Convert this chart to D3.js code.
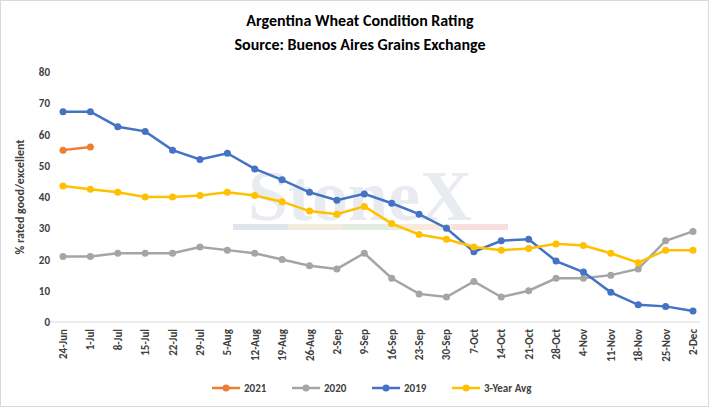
<!DOCTYPE html>
<html><head><meta charset="utf-8">
<script src="https://cdn.jsdelivr.net/npm/d3@7"></script>
<style>body{margin:0;background:#fff;font-family:Calibri,Carlito,"Liberation Sans",sans-serif}</style>
</head><body>
<script>
var categories = ["24-Jun","1-Jul","8-Jul","15-Jul","22-Jul","29-Jul","5-Aug","12-Aug","19-Aug","26-Aug","2-Sep","9-Sep","16-Sep","23-Sep","30-Sep","7-Oct","14-Oct","21-Oct","28-Oct","4-Nov","11-Nov","18-Nov","25-Nov","2-Dec"];
var s2021 = [55,56];
var s2020 = [21,21,22,22,22,24,23,22,20,18,17,22,14,9,8,13,8,10,14,14,15,17,26,29];
var s2019 = [67.3,67.3,62.5,61,55,52,54,49,45.5,41.5,39,41,38,34.5,30,22.5,26,26.5,19.5,16,9.5,5.5,5,3.5];
var avg3 = [43.5,42.5,41.5,40,40,40.5,41.5,40.5,38.5,35.5,34.5,37,31.5,28,26.5,24,23,23.5,25,24.5,22,19,23,23];
var yTicks = [0,10,20,30,40,50,60,70,80];

var w = 709, h = 407;
var svg = d3.select("body").append("svg").attr("width", w).attr("height", h);
svg.append("rect").attr("x",0.5).attr("y",0.5).attr("width",w-1).attr("height",h-1).attr("fill","#fff").attr("stroke","#d9d9d9");

var x = d3.scalePoint().domain(categories).range([63, 693]);
var y = d3.scaleLinear().domain([0, 80]).range([322, 72]);

svg.append("text").attr("x", 360).attr("y", 26).attr("text-anchor","middle").attr("font-size",16).attr("font-weight","bold").text("Argentina Wheat Condition Rating");
svg.append("text").attr("x", 360).attr("y", 50).attr("text-anchor","middle").attr("font-size",16).attr("font-weight","bold").text("Source: Buenos Aires Grains Exchange");

// watermark
svg.append("text").attr("x", 360).attr("y", 220).attr("text-anchor","middle").attr("font-size",72).attr("font-weight","bold")
  .attr("font-family","'Liberation Serif',serif").attr("fill","#dfe3ea").attr("opacity",0.7).text("StoneX");
var wm = ["#c9d3e0","#e7dfc6","#cfe0c9","#f4dcc6","#f2c9c9"];
wm.forEach(function(c,i){ svg.append("rect").attr("x",233+i*55).attr("y",224).attr("width",55).attr("height",6).attr("fill",c).attr("opacity",0.6); });

svg.selectAll(".yl").data(yTicks).enter().append("text")
  .attr("x", 50).attr("y", function(d){ return y(d)+4; }).attr("text-anchor","end").attr("font-size",11).attr("font-weight","bold").attr("fill","#404040").text(function(d){return d;});
svg.append("line").attr("x1",50).attr("x2",700).attr("y1",y(0)).attr("y2",y(0)).attr("stroke","#d9d9d9");

svg.append("text").attr("transform","translate(24,197) rotate(-90)").attr("text-anchor","middle").attr("font-size",12).attr("font-weight","bold").attr("fill","#404040").text("% rated good/excellent");

svg.selectAll(".xl").data(categories).enter().append("text")
  .attr("transform", function(d){ return "translate(" + (x(d)+4) + ",329) rotate(-90)"; })
  .attr("text-anchor","end").attr("font-size",11).attr("font-weight","bold").attr("fill","#404040").text(function(d){return d;});

var series = [
  {name:"2020", data:s2020, color:"#a5a5a5"},
  {name:"2019", data:s2019, color:"#4472c4"},
  {name:"3-Year Avg", data:avg3, color:"#ffc000"},
  {name:"2021", data:s2021, color:"#ed7d31"}
];
var line = d3.line().x(function(d,i){return x(categories[i]);}).y(function(d){return y(d);});
series.forEach(function(s){
  svg.append("path").datum(s.data).attr("d", line).attr("fill","none").attr("stroke", s.color).attr("stroke-width",2.5);
  svg.selectAll(null).data(s.data).enter().append("circle")
    .attr("cx", function(d,i){return x(categories[i]);}).attr("cy", function(d){return y(d);}).attr("r",3.5).attr("fill",s.color);
});

var legend = [{name:"2021",color:"#ed7d31",x:212},{name:"2020",color:"#a5a5a5",x:292},{name:"2019",color:"#4472c4",x:372},{name:"3-Year Avg",color:"#ffc000",x:452}];
legend.forEach(function(l){
  svg.append("line").attr("x1",l.x).attr("x2",l.x+28).attr("y1",388).attr("y2",388).attr("stroke",l.color).attr("stroke-width",2.5);
  svg.append("circle").attr("cx",l.x+14).attr("cy",388).attr("r",3.5).attr("fill",l.color);
  svg.append("text").attr("x",l.x+32).attr("y",392).attr("font-size",11).attr("font-weight","bold").attr("fill","#404040").text(l.name);
});
</script>
</body></html>
